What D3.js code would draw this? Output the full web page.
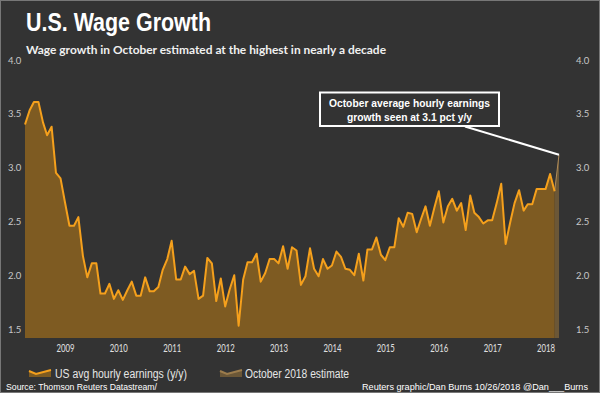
<!DOCTYPE html>
<html>
<head>
<meta charset='utf-8'>
<title>U.S. Wage Growth</title>
<script src='https://cdn.jsdelivr.net/npm/d3@7'></script>
<style>
  body {margin:0; background:#333;}
  svg text {font-family:'Liberation Sans',Arial,sans-serif;}
  .lato {font-family:Lato,'Open Sans',sans-serif;}
</style>
</head>
<body>
<svg id='chart' width='600' height='393'></svg>
<script>
// US avg hourly earnings, y/y %, monthly Oct 2008 .. Sep 2018
var wage=[3.40,3.53,3.61,3.61,3.42,3.30,3.38,2.95,2.90,2.68,
          2.46,2.46,2.54,2.18,1.98,2.11,2.11,1.83,1.83,1.92,
          1.78,1.86,1.77,1.86,1.94,1.81,1.81,1.98,1.85,1.85,
          1.89,2.05,2.15,2.32,1.96,1.96,2.08,2.01,2.04,1.78,
          1.81,2.16,2.11,1.76,1.97,1.71,1.87,2.00,1.53,1.96,
          2.12,2.12,2.20,1.94,2.02,2.15,2.15,2.11,2.27,2.06,
          2.26,2.23,1.91,1.99,2.25,2.06,1.99,2.15,2.06,2.09,
          2.22,2.17,2.06,2.05,2.00,2.20,1.95,2.24,2.24,2.35,
          2.19,2.14,2.26,2.26,2.53,2.45,2.58,2.57,2.40,2.52,
          2.64,2.46,2.63,2.78,2.49,2.64,2.71,2.60,2.67,2.42,
          2.74,2.58,2.54,2.48,2.51,2.51,2.67,2.85,2.29,2.49,
          2.67,2.79,2.60,2.66,2.66,2.80,2.80,2.80,2.94,2.78];
// October 2018 estimate (from last actual, Sep 2018)
var estimate=[2.78,3.12];
var yTicks=[1.5,2.0,2.5,3.0,3.5,4.0];
var years=[2009,2010,2011,2012,2013,2014,2015,2016,2017,2018];
var legendLabels=['US avg hourly earnings (y/y)','October 2018 estimate'];

var start=new Date(2008,9,1), end=new Date(2018,9,1);
var months=d3.timeMonth.range(start,end);
var wageData=wage.map(function(v,i){return {date:months[i],value:v};});
var estData=estimate.map(function(v,i){return {date:d3.timeMonth.offset(end,i-1),value:v};});

var svg=d3.select('#chart');
var W=600,H=393,left=25,right=559,bottom=338;

svg.append('rect').attr('width',W).attr('height',H).attr('fill','#333');
svg.append('rect').attr('x',0.5).attr('y',0.5).attr('width',W-1).attr('height',H-1)
   .attr('fill','none').attr('stroke','#777');

var x=d3.scaleTime().domain([start,end]).range([left,right]);
var y=d3.scaleLinear().domain([1.5,4.0]).range([329,60]);

var area=d3.area().x(function(d){return x(d.date);})
           .y0(bottom).y1(function(d){return y(d.value);});
var line=d3.line().x(function(d){return x(d.date);})
           .y(function(d){return y(d.value);});

svg.append('path').datum(estData).attr('d',area).attr('fill','#6b5737');
svg.append('path').datum(estData).attr('d',line).attr('fill','none')
   .attr('stroke','#b08c5a').attr('stroke-width',1);
svg.append('path').datum(wageData).attr('d',area).attr('fill','#7e5b22');
svg.append('path').datum(wageData).attr('d',line).attr('fill','none')
   .attr('stroke','#f5a01c').attr('stroke-width',2).attr('stroke-linejoin','round');

// y labels both sides
yTicks.forEach(function(t){
  [8,576].forEach(function(px){
    svg.append('text').attr('class','lato').attr('x',px).attr('y',y(t)+3.5)
       .attr('font-size',9.5).attr('fill','#c8c8c8').text(d3.format('.1f')(t));
  });
});

// x labels at mid-year
var xa=svg.append('g').attr('transform','translate(0,'+bottom+')')
  .call(d3.axisBottom(x).tickValues(years.map(function(yr){return new Date(yr,6,1);}))
        .tickFormat(d3.timeFormat('%Y')).tickSize(0).tickPadding(7));
xa.select('.domain').remove();
xa.selectAll('text').attr('class','lato').attr('font-size',10.5).attr('fill','#e0e0e0')
  .attr('textLength',18).attr('lengthAdjust','spacingAndGlyphs');

// title
svg.append('text').attr('x',26).attr('y',30.5).attr('font-size',25).attr('font-weight','bold')
   .attr('fill','#fff').attr('textLength',185).attr('lengthAdjust','spacingAndGlyphs')
   .text('U.S. Wage Growth');
svg.append('text').attr('class','lato').attr('x',26).attr('y',53.5).attr('font-size',12)
   .attr('font-weight','bold').attr('fill','#f0f0f0').attr('textLength',360)
   .attr('lengthAdjust','spacingAndGlyphs')
   .text('Wage growth in October estimated at the highest in nearly a decade');

// annotation
var last=estData[estData.length-1];
svg.append('line').attr('x1',465).attr('y1',126.5).attr('x2',x(last.date)).attr('y2',y(last.value))
   .attr('stroke','#fff').attr('stroke-width',2);
svg.append('rect').attr('x',320).attr('y',92.5).attr('width',179).attr('height',33.5)
   .attr('fill','#333').attr('stroke','#fff').attr('stroke-width',2);
[['October average hourly earnings',107,161],['growth seen at 3.1 pct y/y',121,125]].forEach(function(l){
  svg.append('text').attr('x',409.5).attr('y',l[1]).attr('text-anchor','middle')
     .attr('font-size',11.5).attr('font-weight','bold').attr('fill','#fff')
     .attr('textLength',l[2]).attr('lengthAdjust','spacingAndGlyphs').text(l[0]);
});

// legend
var lg=[{x:29,fill:'#7e5b22',stroke:'#f5a01c',tx:55,tw:132},
        {x:220,fill:'#6b5737',stroke:'#9c7c4c',tx:245,tw:104}];
lg.forEach(function(o,i){
  var g=svg.append('g').attr('transform','translate('+o.x+',370)');
  g.append('path').attr('d','M0,1 L7,4 L22,0 L22,7 L0,7 Z').attr('fill',o.fill);
  g.append('path').attr('d','M0,1 L7,4 L22,0').attr('fill','none').attr('stroke',o.stroke).attr('stroke-width',2);
  svg.append('text').attr('x',o.tx).attr('y',378).attr('font-size',12).attr('fill','#e6e6e6')
     .attr('textLength',o.tw).attr('lengthAdjust','spacingAndGlyphs').text(legendLabels[i]);
});

// footer
svg.append('text').attr('x',6).attr('y',390).attr('font-size',9.5).attr('fill','#fff')
   .attr('textLength',151).attr('lengthAdjust','spacingAndGlyphs')
   .text('Source: Thomson Reuters Datastream/');
svg.append('text').attr('x',362).attr('y',390).attr('font-size',9.5).attr('fill','#fff')
   .attr('textLength',226).attr('lengthAdjust','spacingAndGlyphs')
   .text('Reuters graphic/Dan Burns 10/26/2018 @Dan___Burns');
</script>
</body>
</html>
